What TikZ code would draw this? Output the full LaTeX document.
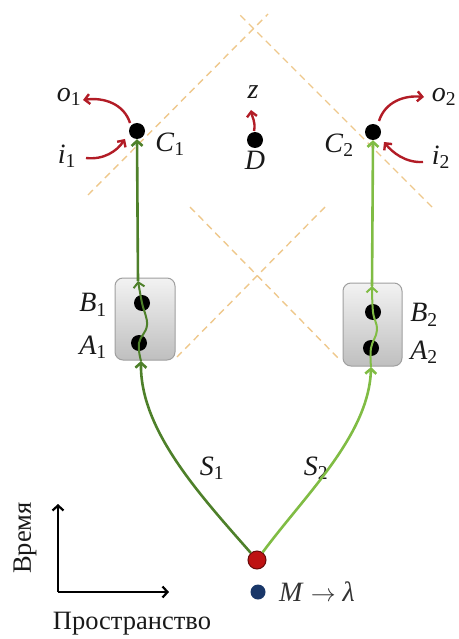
\documentclass[tikz,border=0pt]{standalone}
\usepackage{fontspec}
\setmainfont{LiberationSerif}[Extension=.ttf,UprightFont=*-Regular,ItalicFont=*-Italic,BoldFont=*-Bold,BoldItalicFont=*-BoldItalic]
\usetikzlibrary{arrows.meta}
\definecolor{conecol}{RGB}{238,200,140}
\definecolor{gdk}{RGB}{78,128,42}
\definecolor{glt}{RGB}{128,188,68}
\definecolor{redc}{RGB}{178,28,38}
\definecolor{reddot}{RGB}{190,18,18}
\definecolor{bluedot}{RGB}{25,55,105}
\definecolor{txt}{RGB}{25,25,25}
\newcommand\lbl[2]{\textit{#1}\textsubscript{#2}}
\tikzset{
  dot/.style={circle,fill=black,inner sep=0pt,minimum size=16pt},
  conel/.style={draw=conecol,line width=1.4pt,dash pattern=on 7pt off 5pt},
  gdark/.style={draw=gdk,line width=2.6pt},
  glight/.style={draw=glt,line width=2.6pt},
  gtip/.style={-{Straight Barb[length=5pt,width=11pt]}},
  redarr/.style={draw=redc,line width=2.4pt,-{Straight Barb[length=5pt,width=10pt]}},
  lab/.style={text=txt,font=\fontsize{28}{32}\selectfont,inner sep=0pt},
  word/.style={text=txt,font=\fontsize{26.5}{30}\selectfont,inner sep=0pt},
  devbox/.style={rounded corners=8pt,draw=gray!75,line width=1pt,top color=gray!10,bottom color=gray!50,inner sep=0pt},
  axis/.style={draw=black,line width=2.2pt,-{Straight Barb[length=5pt,width=11pt]}}
}
\begin{document}
\begin{tikzpicture}[x=1pt,y=-1pt]
\useasboundingbox (0,0) rectangle (458,639);
% light cones
\coordinate (u1a) at (88,195);  \coordinate (u1b) at (268,14);
\coordinate (u2a) at (432,207); \coordinate (u2b) at (239,14);
\coordinate (l1a) at (190,207); \coordinate (l1b) at (340,360);
\coordinate (l2a) at (325,207); \coordinate (l2b) at (177,357);
\draw[conel] (u1a) -- (u1b);
\draw[conel] (u2a) -- (u2b);
\draw[conel] (l1a) -- (l1b);
\draw[conel] (l2a) -- (l2b);
% boxes
\node[devbox,minimum width=60pt,minimum height=82pt] (box1) at (145,319) {};
\node[devbox,minimum width=59pt,minimum height=83pt] (box2) at (372.5,324.5) {};
% dots
\node[dot] (C1) at (137,131) {};
\node[dot] (C2) at (373,132) {};
\node[dot] (D) at (255,140) {};
\node[dot] (B1) at (142,303) {};
\node[dot] (A1) at (139,343) {};
\node[dot] (B2) at (373,312) {};
\node[dot] (A2) at (371,348) {};
\node[circle,fill=reddot,draw=reddot!55!black,line width=1pt,inner sep=0pt,minimum size=18pt] (R) at (257,560) {};
\node[circle,fill=bluedot,inner sep=0pt,minimum size=15pt] (M) at (258,592) {};
% labels
\node[lab] (o1) at (69,97) {\lbl{o}{1}};
\node[lab] (i1) at (67,156) {\lbl{i}{1}};
\node[lab] (lC1) at (170,144) {\lbl{C}{1}};
\node[lab] (z) at (253,92) {\textit{z}};
\node[lab] (lD) at (255,160) {\textit{D}};
\node[lab] (lC2) at (339,145) {\lbl{C}{2}};
\node[lab] (o2) at (444,97) {\lbl{o}{2}};
\node[lab] (i2) at (441,157) {\lbl{i}{2}};
\node[lab] (lB1) at (93,305) {\lbl{B}{1}};
\node[lab] (lA1) at (93,347) {\lbl{A}{1}};
\node[lab] (lB2) at (424,315) {\lbl{B}{2}};
\node[lab] (lA2) at (424,352) {\lbl{A}{2}};
\node[lab] (S1) at (212,468) {\lbl{S}{1}};
\node[lab] (S2) at (316,468) {\lbl{S}{2}};
\node[lab,anchor=west,text=black!80] (ml) at (279,592) {\textit{M} $\rightarrow$ \textit{λ}};
% red arrows
\coordinate (o1s) at (130,123); \coordinate (o1e) at (83,100);
\coordinate (i1s) at (86,158);  \coordinate (i1e) at (125,139);
\coordinate (o2s) at (379,121); \coordinate (o2e) at (424,97);
\coordinate (i2s) at (423,162); \coordinate (i2e) at (384,142);
\coordinate (zs) at (254,131);  \coordinate (ze) at (251,110);
\draw[redarr] (o1s) .. controls (124,104) and (104,97) .. (o1e);
\draw[redarr] (i1s) .. controls (104,160) and (117,151) .. (i1e);
\draw[redarr] (o2s) .. controls (385,102) and (404,95) .. (o2e);
\draw[redarr] (i2s) .. controls (405,163) and (392,152) .. (i2e);
\draw[redarr] (zs) .. controls (256,122) and (252,117) .. (ze);
% green paths
\coordinate (s1e) at (141,361);
\coordinate (s2e) at (371,367);
\coordinate (t1) at (138,281);
\coordinate (t2) at (372,286);
\draw[gdark,gtip] (R) .. controls (200,495) and (140,430) .. (s1e);
\draw[glight,gtip] (R) .. controls (305,495) and (369,435) .. (s2e);
\draw[gdark,line width=2pt,gtip] plot[smooth,tension=0.7] coordinates {(141,361) (139,343) (147,325) (142,303) (138,281)};
\draw[glight,line width=2pt,gtip] plot[smooth,tension=0.7] coordinates {(371,367) (371,348) (377,330) (373,312) (372,286)};
\draw[gdark,gtip] (t1) -- (C1.south);
\draw[glight,gtip] (t2) -- (C2.south);
% axes
\coordinate (O) at (58,592);
\coordinate (Ty) at (58,504);
\coordinate (Tx) at (169,592);
\draw[axis] (O) -- (Ty);
\draw[axis] (O) -- (Tx);
\node[word,rotate=90] (time) at (25,538) {Время};
\node[word] (space) at (132,624) {Пространство};
\end{tikzpicture}
\end{document}
